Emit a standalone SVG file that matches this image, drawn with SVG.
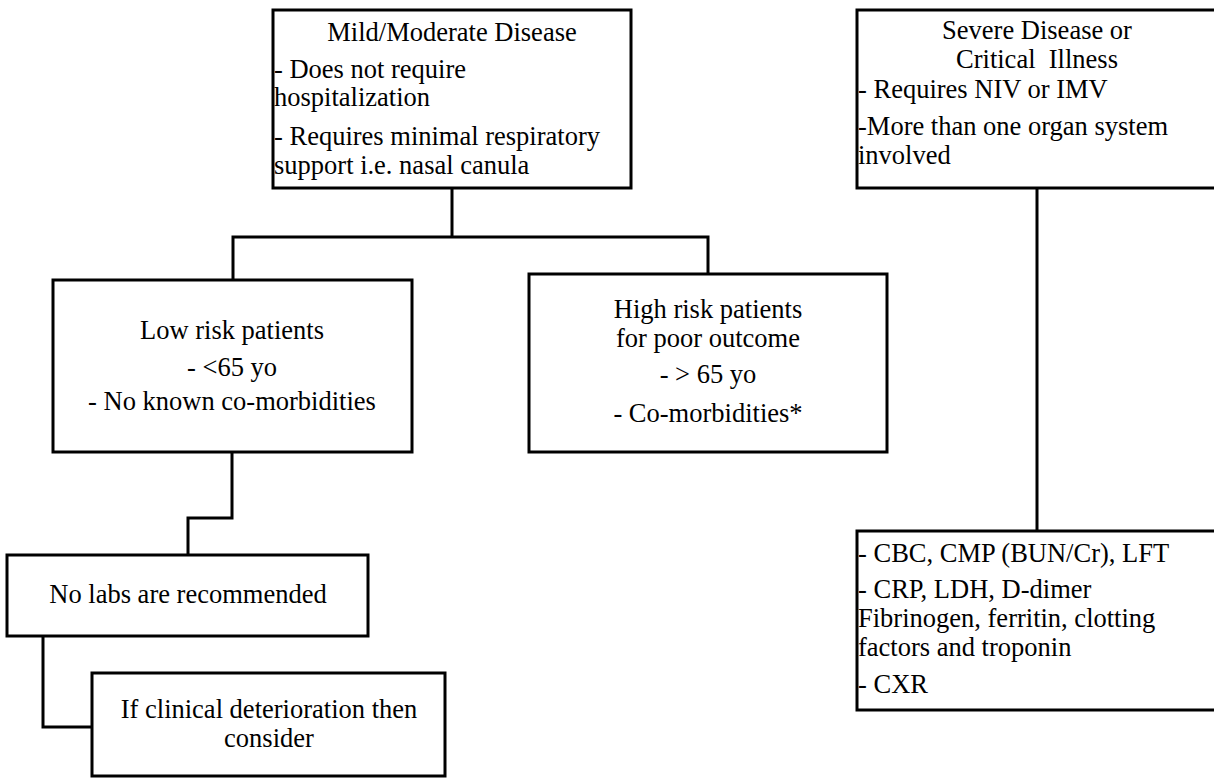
<svg xmlns="http://www.w3.org/2000/svg" width="1214" height="778" viewBox="0 0 1214 778" font-family="'Liberation Serif', 'Times New Roman', Times, serif">
<style>
.box{fill:#fff;stroke:#000;stroke-width:3}
.con{fill:none;stroke:#000;stroke-width:3}
.t{font-family:"Liberation Serif","Times New Roman",Times,serif;font-size:26.5px;fill:#000}
.c{text-anchor:middle}
</style>
<rect width="1214" height="778" fill="#fff"/>
<g id="connectors">
<polyline class="con" points="452,188 452,237"/>
<polyline class="con" points="233,280 233,237 708,237 708,274"/>
<polyline class="con" points="232,452 232,518 188,518 188,555"/>
<polyline class="con" points="43,636 43,727 92,727"/>
<polyline class="con" points="1037,188 1037,531"/>
</g>
<g id="mild" class="t">
<rect class="box" x="273" y="10" width="358" height="178"/>
<text class="c" x="452" y="41">Mild/Moderate Disease</text>
<text x="274" y="78">- Does not require</text>
<text x="274" y="106">hospitalization</text>
<text x="274" y="145">- Requires minimal respiratory</text>
<text x="274" y="174">support i.e. nasal canula</text>
</g>
<g id="severe" class="t">
<rect class="box" x="857" y="10" width="360" height="178"/>
<text class="c" x="1037" y="39">Severe Disease or</text>
<text class="c" x="1037" y="68" xml:space="preserve">Critical  Illness</text>
<text x="858" y="98">- Requires NIV or IMV</text>
<text x="858" y="135">-More than one organ system</text>
<text x="858" y="164">involved</text>
</g>
<g id="lowrisk" class="t">
<rect class="box" x="53" y="280" width="359" height="172"/>
<text class="c" x="232" y="339">Low risk patients</text>
<text class="c" x="232" y="376">- &lt;65 yo</text>
<text class="c" x="232" y="410">- No known co-morbidities</text>
</g>
<g id="highrisk" class="t">
<rect class="box" x="529" y="274" width="358" height="178"/>
<text class="c" x="708" y="318">High risk patients</text>
<text class="c" x="708" y="347">for poor outcome</text>
<text class="c" x="708" y="383">- &gt; 65 yo</text>
<text class="c" x="708" y="422">- Co-morbidities*</text>
</g>
<g id="nolabs" class="t">
<rect class="box" x="7" y="555" width="361" height="81"/>
<text class="c" x="188" y="603">No labs are recommended</text>
</g>
<g id="deterioration" class="t">
<rect class="box" x="92" y="673" width="353" height="103"/>
<text class="c" x="269" y="718">If clinical deterioration then</text>
<text class="c" x="269" y="747">consider</text>
</g>
<g id="labs" class="t">
<rect class="box" x="857" y="531" width="360" height="179"/>
<text x="858" y="562">- CBC, CMP (BUN/Cr), LFT</text>
<text x="858" y="598">- CRP, LDH, D-dimer</text>
<text x="858" y="627">Fibrinogen, ferritin, clotting</text>
<text x="858" y="656">factors and troponin</text>
<text x="858" y="693">- CXR</text>
</g>
</svg>
